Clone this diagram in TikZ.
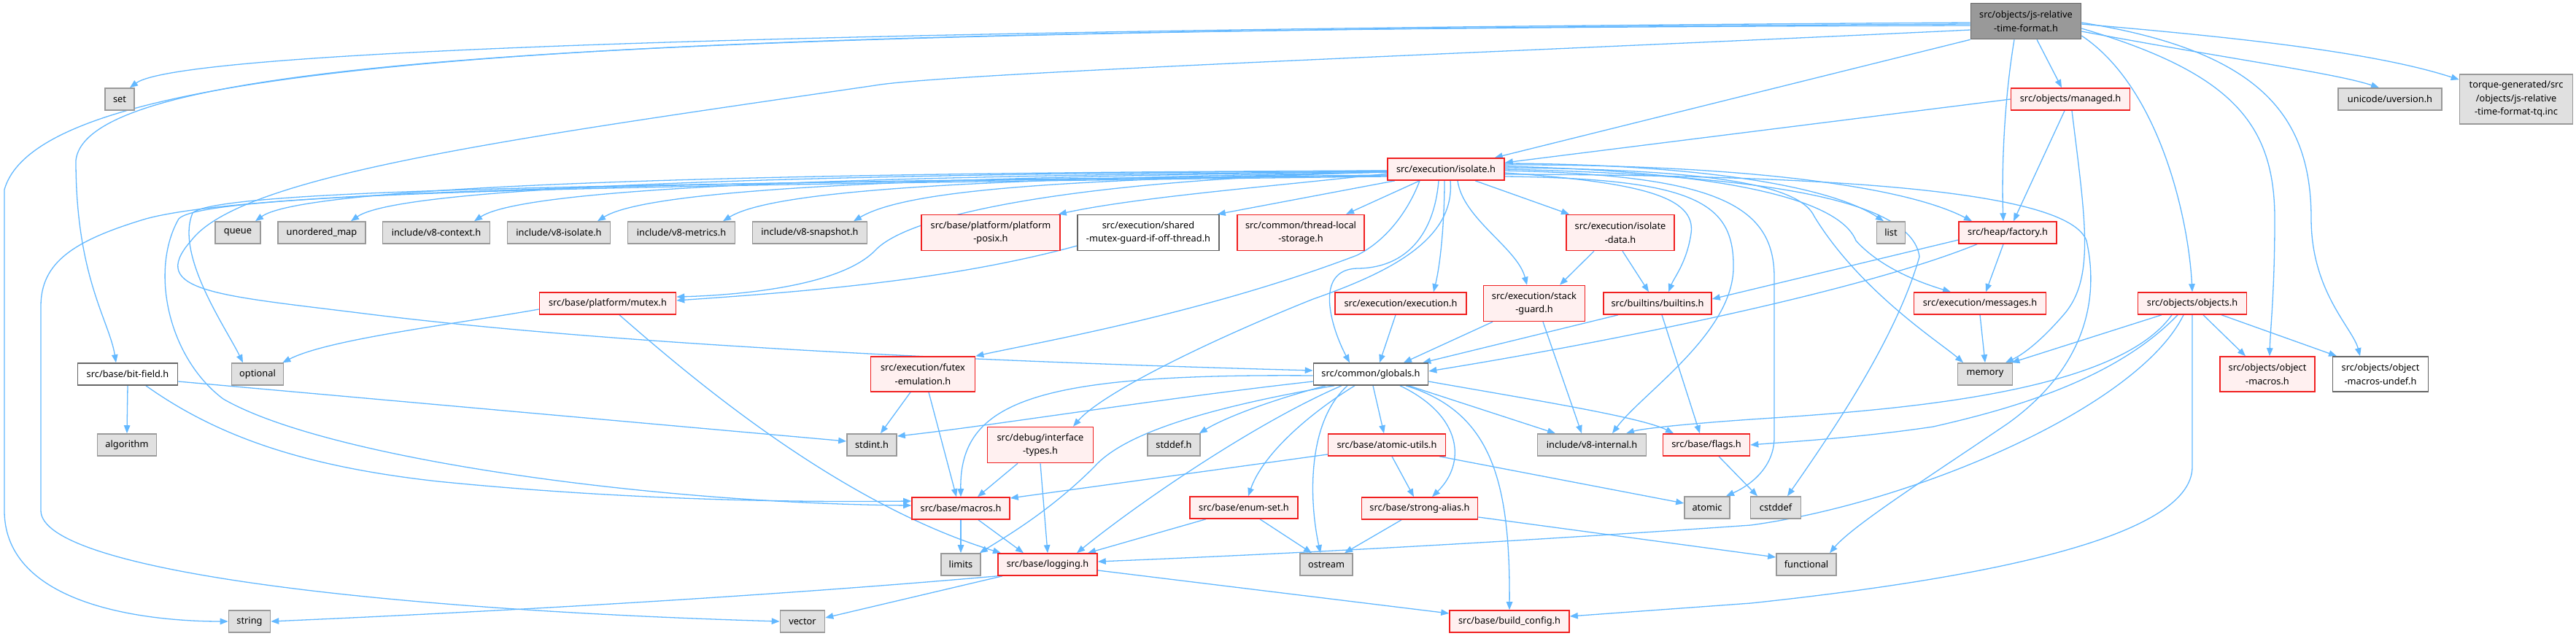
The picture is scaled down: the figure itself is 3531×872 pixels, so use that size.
\documentclass[tikz,border=0pt]{standalone}
\usepackage{fontspec}
\setmainfont{Noto Sans}
\usetikzlibrary{arrows.meta}
\definecolor{edgec}{HTML}{63B8FF}
\definecolor{redc}{HTML}{F02020}
\definecolor{redf}{HTML}{FFF0F0}
\definecolor{grayd}{HTML}{999999}
\definecolor{grayf}{HTML}{E0E0E0}
\definecolor{whited}{HTML}{666666}
\definecolor{mainf}{HTML}{999999}
\pgfdeclarelayer{bg}
\pgfsetlayers{bg,main}
\begin{document}
\begin{tikzpicture}[x=1pt,y=-1pt,
 box/.style={draw, rectangle, inner xsep=2pt, inner ysep=0pt, minimum height=30pt, align=center, font=\fontsize{12.8pt}{18.5pt}\selectfont, line width=1.6pt},
 redb/.style={box, draw=redc, fill=redf},
 grayb/.style={box, draw=grayd, fill=grayf},
 whiteb/.style={box, draw=whited, fill=white},
 mainb/.style={box, draw=whited, fill=mainf},
 dep/.style={draw=edgec, line width=1.3pt, -{Triangle[length=11pt,width=8.5pt]}}]
\path[use as bounding box] (0,0) rectangle (3531,872);
% row 0
\node[mainb, minimum width=151pt, minimum height=49pt] (JR) at (2777,29) {src/objects/js-relative\\-time-format.h};
% row 1
\node[grayb, minimum width=40pt] (set) at (164,136) {set};
\node[redb, minimum width=163pt] (managed) at (2838,136) {src/objects/managed.h};
\node[grayb, minimum width=142pt] (uversion) at (3276,136) {unicode/uversion.h};
\node[grayb, minimum width=155pt, minimum height=68pt] (torque) at (3449,136) {torque-generated/src\\/objects/js-relative\\-time-format-tq.inc};
% row 2
\node[redb, minimum width=160pt] (isolate) at (1982,232) {src/execution/isolate.h};
% row 3
\node[grayb, minimum width=62pt] (queue) at (326,319) {queue};
\node[grayb, minimum width=120pt] (umap) at (441,319) {unordered\_map};
\node[grayb, minimum width=147pt] (v8ctx) at (598,319) {include/v8-context.h};
\node[grayb, minimum width=141pt] (v8iso) at (766,319) {include/v8-isolate.h};
\node[grayb, minimum width=147pt] (v8met) at (934,319) {include/v8-metrics.h};
\node[grayb, minimum width=157pt] (v8snap) at (1110,319) {include/v8-snapshot.h};
\node[redb, minimum width=190pt, minimum height=49pt] (posix) at (1358,319) {src/base/platform/platform\\-posix.h};
\node[whiteb, minimum width=194pt, minimum height=49pt] (shared) at (1574,319) {src/execution/shared\\-mutex-guard-if-off-thread.h};
\node[redb, minimum width=174pt, minimum height=49pt] (thread) at (1783,319) {src/common/thread-local\\-storage.h};
\node[redb, minimum width=148pt, minimum height=49pt] (idata) at (2221,319) {src/execution/isolate\\-data.h};
\node[grayb, minimum width=39pt] (list) at (2592,319) {list};
\node[redb, minimum width=134pt] (factory) at (2752,319) {src/heap/factory.h};
% row 4
\node[redb, minimum width=187pt] (mutex) at (833,416) {src/base/platform/mutex.h};
\node[redb, minimum width=180pt] (execution) at (1920,416) {src/execution/execution.h};
\node[redb, minimum width=139pt, minimum height=49pt] (stack) at (2103,416) {src/execution/stack\\-guard.h};
\node[redb, minimum width=148pt] (builtins) at (2272,416) {src/builtins/builtins.h};
\node[redb, minimum width=181pt] (messages) at (2714,416) {src/execution/messages.h};
\node[redb, minimum width=149pt] (objects) at (3005,416) {src/objects/objects.h};
% row 5
\node[whiteb, minimum width=137pt] (bit) at (175,513) {src/base/bit-field.h};
\node[grayb, minimum width=71pt] (optional) at (353,513) {optional};
\node[redb, minimum width=143pt, minimum height=48pt] (futex) at (1265,513) {src/execution/futex\\-emulation.h};
\node[whiteb, minimum width=157pt] (globals) at (1879,513) {src/common/globals.h};
\node[grayb, minimum width=75pt] (memory) at (2721,513) {memory};
\node[redb, minimum width=130pt, minimum height=48pt] (omacros) at (3108,513) {src/objects/object\\-macros.h};
\node[whiteb, minimum width=131pt, minimum height=48pt] (undef) at (3263,513) {src/objects/object\\-macros-undef.h};
% row 6
\node[grayb, minimum width=81pt] (algorithm) at (174,610) {algorithm};
\node[grayb, minimum width=68pt] (stdint) at (1195,610) {stdint.h};
\node[redb, minimum width=145pt, minimum height=49pt] (itypes) at (1426,610) {src/debug/interface\\-types.h};
\node[grayb, minimum width=72pt] (stddef) at (1609,610) {stddef.h};
\node[redb, minimum width=161pt] (atomicutils) at (1901,610) {src/base/atomic-utils.h};
\node[grayb, minimum width=149pt] (v8int) at (2182,610) {include/v8-internal.h};
\node[redb, minimum width=119pt] (flags) at (2339,610) {src/base/flags.h};
% row 7
\node[redb, minimum width=134pt] (macros) at (1317,697) {src/base/macros.h};
\node[redb, minimum width=148pt] (enumset) at (1705,696) {src/base/enum-set.h};
\node[redb, minimum width=159pt] (strong) at (1946,697) {src/base/strong-alias.h};
\node[grayb, minimum width=62pt] (atomic) at (2340,696) {atomic};
\node[grayb, minimum width=69pt] (cstddef) at (2434,696) {cstddef};
% row 8
\node[grayb, minimum width=54pt] (limits) at (1317,774) {limits};
\node[redb, minimum width=136pt] (logging) at (1436,774) {src/base/logging.h};
\node[grayb, minimum width=72pt] (ostream) at (1818,774) {ostream};
\node[grayb, minimum width=82pt] (functional) at (2476,774) {functional};
% row 9
\node[grayb, minimum width=57pt] (string) at (342,852) {string};
\node[grayb, minimum width=61pt] (vector) at (1100,852) {vector};
\node[redb, minimum width=164pt] (buildc) at (2069,852) {src/base/build\_config.h};

\begin{pgfonlayer}{bg}
% JR
\draw[dep] ([yshift=-2pt]JR.west) .. controls (1500,38) and (260,60) .. ([xshift=14pt]set.north);
\draw[dep] ([yshift=-6pt]JR.west) .. controls (900,40) and (60,70) .. (6,260) -- (6,700) .. controls (6,830) and (200,852) .. (string.west);
\draw[dep] ([yshift=-4pt]JR.west) .. controls (900,42) and (120,75) .. (104,220) .. controls (104,380) and (150,440) .. ([xshift=-16pt]bit.north);
\draw[dep] ([yshift=-12pt]JR.west) .. controls (2100,70) and (1300,100) .. (1200,117) .. controls (700,190) and (330,240) .. (262,330) .. controls (200,400) and (300,405) .. (500,430) .. controls (900,480) and (1500,500) .. ([yshift=5pt]globals.west);
\draw[dep] (JR.south west) -- ([xshift=-14pt]isolate.north east);
\draw[dep] ([xshift=15pt]JR.south) -- ([xshift=-12pt]managed.north);
\draw[dep] ([xshift=-16pt]JR.south) .. controls (2745,150) and (2744,250) .. ([xshift=-6pt]factory.north);
\draw[dep] ([yshift=-20pt]JR.east) .. controls (2960,120) and (3000,300) .. (objects.north);
\draw[dep] ([yshift=-10pt]JR.east) .. controls (3060,100) and (3118,170) .. (3118,300) .. controls (3118,400) and (3112,450) .. ([xshift=3pt]omacros.north);
\draw[dep] ([yshift=-2pt]JR.east) .. controls (3100,70) and (3168,160) .. (3168,300) .. controls (3168,400) and (3225,450) .. ([xshift=-28pt]undef.north);
\draw[dep] ([yshift=-14pt]JR.east) .. controls (3050,80) and (3200,100) .. ([xshift=-15pt]uversion.north);
\draw[dep] ([yshift=-4pt]JR.east) .. controls (3050,50) and (3250,70) .. ([yshift=-8pt]torque.north west);
% managed
\draw[dep] (managed.west) -- ([yshift=9pt]isolate.east);
\draw[dep] ([xshift=-8pt]managed.south) -- ([xshift=8pt]factory.north);
\draw[dep] ([xshift=2pt]managed.south) .. controls (2858,300) and (2872,380) .. (2830,430) .. controls (2800,465) and (2775,485) .. ([xshift=28pt]memory.north);
% isolate left bundle
\draw[dep] ([yshift=-2pt]isolate.west) .. controls (1300,236) and (430,245) .. ([xshift=24pt]queue.north);
\draw[dep] ([yshift=-2pt]isolate.west) .. controls (1300,238) and (560,248) .. ([xshift=40pt]umap.north);
\draw[dep] ([yshift=-3pt]isolate.west) .. controls (1350,240) and (730,250) .. ([xshift=52pt]v8ctx.north);
\draw[dep] ([yshift=-3pt]isolate.west) .. controls (1400,242) and (900,252) .. ([xshift=53pt]v8iso.north);
\draw[dep] ([yshift=-4pt]isolate.west) .. controls (1450,244) and (1070,254) .. ([xshift=57pt]v8met.north);
\draw[dep] ([yshift=-4pt]isolate.west) .. controls (1500,246) and (1250,256) .. ([xshift=60pt]v8snap.north);
\draw[dep] ([yshift=-6pt]isolate.west) .. controls (1750,255) and (1560,270) .. ([xshift=-3pt]posix.north east);
\draw[dep] ([xshift=-70pt]isolate.south) -- ([xshift=-3pt]shared.north east);
\draw[dep] ([xshift=-36pt]isolate.south) -- ([xshift=62pt]thread.north);
\draw[dep] ([xshift=-2pt]isolate.south) .. controls (1980,300) and (1975,360) .. ([xshift=45pt]execution.north);
\draw[dep] ([xshift=16pt]isolate.south) .. controls (2005,300) and (2080,340) .. ([xshift=-10pt]stack.north);
\draw[dep] ([xshift=40pt]isolate.south) -- ([xshift=-70pt]idata.north);
\draw[dep] ([yshift=-5pt]isolate.east) .. controls (2250,250) and (2325,270) .. (2318,320) .. controls (2312,360) and (2295,380) .. ([xshift=15pt]builtins.north);
\draw[dep] ([xshift=-10pt]isolate.south) .. controls (1965,330) and (1920,368) .. (1860,368) .. controls (1800,370) and (1825,450) .. ([xshift=-29pt]globals.north);
\draw[dep] ([yshift=-4pt]isolate.west) .. controls (1500,245) and (1250,290) .. (1200,343) .. controls (1150,395) and (1000,405) .. ([yshift=9pt]mutex.east);
\draw[dep] ([xshift=-36pt]isolate.south) .. controls (1930,290) and (1900,330) .. (1860,350) .. controls (1650,430) and (1420,470) .. (futex.north east);
\draw[dep] ([xshift=6pt]isolate.south) .. controls (1995,330) and (1900,375) .. (1800,410) .. controls (1650,470) and (1510,540) .. ([xshift=45pt]itypes.north);
\draw[dep] ([yshift=-10pt]isolate.east) .. controls (2330,245) and (2378,280) .. (2376,370) .. controls (2372,460) and (2250,540) .. ([xshift=28pt]v8int.north);
\draw[dep] ([yshift=8pt]isolate.east) .. controls (2300,225) and (2500,250) .. ([xshift=-10pt]list.north);
\draw[dep] ([yshift=6pt]isolate.east) .. controls (2350,225) and (2600,250) .. ([xshift=-49pt]factory.north);
\draw[dep] ([yshift=4pt]isolate.east) .. controls (2350,235) and (2520,270) .. (2544,330) .. controls (2580,370) and (2640,390) .. ([xshift=-40pt]messages.north);
\draw[dep] ([yshift=2pt]isolate.east) .. controls (2380,232) and (2470,260) .. (2487,297) .. controls (2550,400) and (2660,470) .. ([xshift=-30pt]memory.north);
\draw[dep] ([yshift=-2pt]isolate.east) .. controls (2350,240) and (2432,280) .. (2432,380) -- (2432,600) .. controls (2432,640) and (2400,665) .. ([xshift=26pt]atomic.north);
\draw[dep] (isolate.east) .. controls (2400,240) and (2620,270) .. (2631,352) .. controls (2600,460) and (2520,580) .. ([xshift=16pt]cstddef.north);
\draw[dep] ([yshift=-7pt]isolate.east) .. controls (2500,240) and (2835,260) .. (2860,330) .. controls (2880,420) and (2850,510) .. (2753,580) .. controls (2650,650) and (2540,720) .. ([xshift=32pt]functional.north);
\draw[dep] ([yshift=-8pt]isolate.west) .. controls (900,250) and (340,262) .. (200,300) .. controls (100,330) and (56,360) .. (56,420) -- (56,700) .. controls (56,780) and (500,835) .. (vector.west);
\draw[dep] ([yshift=-9pt]isolate.west) .. controls (900,252) and (300,258) .. (264,292) .. controls (240,350) and (310,450) .. ([xshift=-20pt]optional.north);
\draw[dep] ([yshift=-10pt]isolate.west) .. controls (900,254) and (280,262) .. (245,300) .. controls (205,370) and (230,490) .. (306,547) .. controls (450,630) and (900,690) .. ([yshift=4pt]macros.west);
% bit-field
\draw[dep] (bit.south) -- (algorithm.north);
\draw[dep] ([xshift=25pt]bit.south) .. controls (300,600) and (420,640) .. (600,660) .. controls (900,690) and (1150,688) .. ([yshift=10pt]macros.west);
\draw[dep] ([yshift=-10pt]bit.east) -- ([yshift=5pt]stdint.west);
% mutex
\draw[dep] ([yshift=-8pt]mutex.west) .. controls (620,445) and (450,465) .. ([xshift=-2pt]optional.north east);
\draw[dep] ([xshift=16pt]mutex.south) .. controls (950,520) and (1150,690) .. ([xshift=-64pt]logging.north);
\draw[dep] ([yshift=-18pt]shared.west) .. controls (1300,385) and (1100,400) .. ([yshift=4pt]mutex.east);
% futex
\draw[dep] ([xshift=-17pt]futex.south) -- ([xshift=12pt]stdint.north);
\draw[dep] ([xshift=8pt]futex.south) -- ([xshift=-6pt]macros.north);
% interface types
\draw[dep] ([xshift=-31pt]itypes.south) -- ([xshift=23pt]macros.north);
\draw[dep] (itypes.south) -- (logging.north);
% globals
\draw[dep] ([yshift=-10pt]globals.west) .. controls (1600,545) and (1350,585) .. ([yshift=12pt]stdint.east);
\draw[dep] ([yshift=-2pt]globals.west) .. controls (1420,512) and (1315,550) .. (macros.north);
\draw[dep] ([xshift=-50pt]globals.south) .. controls (1650,560) and (1540,595) .. (1500,640) .. controls (1440,700) and (1380,735) .. ([xshift=-2pt]limits.north east);
\draw[dep] ([xshift=-40pt]globals.south) .. controls (1720,580) and (1560,690) .. ([xshift=40pt]logging.north);
\draw[dep] ([xshift=-62pt]globals.south) .. controls (1720,555) and (1670,578) .. ([xshift=-2pt]stddef.north east);
\draw[dep] ([xshift=-22pt]globals.south) .. controls (1790,570) and (1730,625) .. ([xshift=6pt]enumset.north);
\draw[dep] ([xshift=-32pt]globals.south) .. controls (1790,580) and (1795,690) .. ([xshift=-8pt]ostream.north);
\draw[dep] ([xshift=3pt]globals.south) -- ([xshift=-4pt]atomicutils.north);
\draw[dep] ([xshift=40pt]globals.south) .. controls (2005,570) and (2010,635) .. ([xshift=17pt]strong.north);
\draw[dep] ([xshift=48pt]globals.south) .. controls (2045,565) and (2070,660) .. (buildc.north);
\draw[dep] ([xshift=52pt]globals.south) -- ([xshift=-50pt]v8int.north);
\draw[dep] ([yshift=-10pt]globals.east) .. controls (2100,548) and (2250,572) .. ([xshift=-45pt]flags.north);
% into globals
\draw[dep] ([xshift=-7pt]execution.south) -- ([xshift=12pt]globals.north);
\draw[dep] ([xshift=-57pt]stack.south) -- ([xshift=45pt]globals.north);
\draw[dep] ([xshift=12pt]stack.south) -- ([xshift=-14pt]v8int.north);
\draw[dep] ([xshift=-54pt]builtins.south) -- ([xshift=-8pt]globals.north east);
\draw[dep] ([xshift=6pt]builtins.south) -- ([xshift=-9pt]flags.north);
\draw[dep] ([xshift=-42pt]factory.south) .. controls (2550,400) and (2200,470) .. ([yshift=4pt]globals.east);
\draw[dep] ([yshift=-10pt]factory.west) -- ([yshift=6pt]builtins.east);
\draw[dep] ([xshift=-6pt]factory.south) -- ([xshift=8pt]messages.north);
\draw[dep] ([xshift=-36pt]idata.south) -- ([xshift=35pt]stack.north);
\draw[dep] ([xshift=3pt]idata.south) -- ([xshift=-12pt]builtins.north);
\draw[dep] (messages.south) -- (memory.north);
% objects
\draw[dep] ([xshift=-42pt]objects.south) -- ([xshift=-2pt]memory.north east);
\draw[dep] ([xshift=-28pt]objects.south) .. controls (2900,540) and (2600,562) .. (2400,575) .. controls (2300,582) and (2250,588) .. ([xshift=47pt]v8int.north);
\draw[dep] ([xshift=-20pt]objects.south) .. controls (2900,520) and (2760,560) .. (2650,585) .. controls (2550,600) and (2450,606) .. (flags.east);
\draw[dep] ([xshift=-12pt]objects.south) .. controls (2930,560) and (2620,690) .. (2400,720) .. controls (2000,748) and (1700,762) .. ([yshift=4pt]logging.east);
\draw[dep] (objects.south) -- (3005,640) .. controls (3005,740) and (2700,795) .. (2400,827) -- ([yshift=7pt]buildc.east);
\draw[dep] ([xshift=15pt]objects.south) -- ([xshift=-30pt]omacros.north);
\draw[dep] ([xshift=40pt]objects.south) -- ([xshift=-60pt]undef.north);
% logging
\draw[dep] (logging.south west) .. controls (1000,822) and (600,842) .. (string.east);
\draw[dep] ([xshift=-62pt]logging.south) -- ([yshift=5pt]vector.east);
\draw[dep] ([yshift=-8pt]logging.east) -- ([yshift=11pt]buildc.west);
% macros, enum-set, strong-alias, atomic-utils, flags
\draw[dep] (macros.south) -- (limits.north);
\draw[dep] ([xshift=24pt]macros.south) -- ([xshift=-33pt]logging.north);
\draw[dep] ([xshift=-52pt]enumset.south) -- ([xshift=55pt]logging.north);
\draw[dep] ([xshift=22pt]enumset.south) -- ([xshift=-20pt]ostream.north);
\draw[dep] ([xshift=-25pt]strong.south) -- ([xshift=25pt]ostream.north);
\draw[dep] ([yshift=-12pt]strong.east) -- ([yshift=10pt]functional.west);
\draw[dep] ([yshift=-13pt]atomicutils.west) -- ([yshift=14pt]macros.east);
\draw[dep] ([xshift=7pt]atomicutils.south) -- ([xshift=-8pt]strong.north);
\draw[dep] ([xshift=72pt]atomicutils.south) -- ([yshift=6pt]atomic.west);
\draw[dep] ([xshift=17pt]flags.south) -- ([xshift=-25pt]cstddef.north);
\end{pgfonlayer}
\end{tikzpicture}
\end{document}
